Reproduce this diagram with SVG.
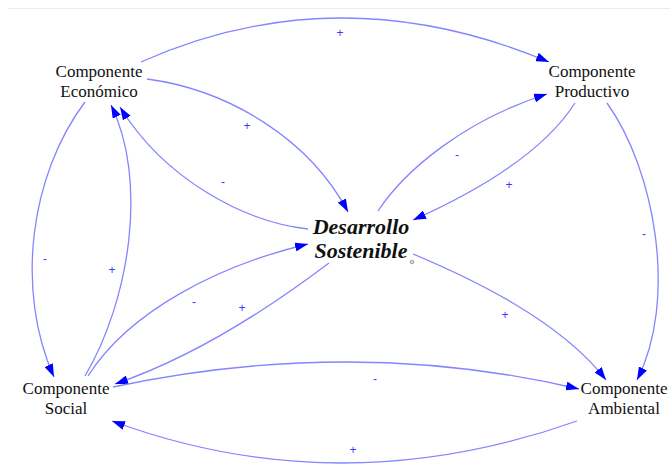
<svg xmlns="http://www.w3.org/2000/svg" width="670" height="466" viewBox="0 0 670 466">
<style>
.n{font-family:"Liberation Serif","Times New Roman",serif;font-size:17px;fill:#111;text-anchor:middle}
.c{font-family:"Liberation Serif","Times New Roman",serif;font-size:22px;font-weight:bold;font-style:italic;fill:#111;text-anchor:middle}
.e{fill:none;stroke:#8585ff;stroke-width:1.3;marker-end:url(#a)}
.s{font-family:"Liberation Sans",Arial,sans-serif;font-size:12px;fill:#3a3aff;text-anchor:middle}
</style>
<defs>
<marker id="a" viewBox="0 0 13 9" refX="13" refY="4.5" markerWidth="13" markerHeight="9" markerUnits="userSpaceOnUse" orient="auto">
<path d="M0,0 L13,4.5 L0,9 z" fill="#0000ff"/>
</marker>
</defs>
<rect width="670" height="466" fill="#fff"/>
<line x1="8" y1="8.5" x2="670" y2="8.5" stroke="#ececec" stroke-width="1"/>
<g id="connectors">
<path class="e" d="M141,62 Q339,-26 549,62"/>
<path class="e" d="M147,79 C230,90 310,140 348,212"/>
<path class="e" d="M308,229 C245,222 165,180 120,107"/>
<path class="e" d="M85,102 C30,175 15,290 54,377"/>
<path class="e" d="M85,376 C130,300 148,180 111,105"/>
<path class="e" d="M88,376 C130,310 220,265 308,244"/>
<path class="e" d="M329,263 C280,300 200,355 115,384"/>
<path class="e" d="M113,387 Q354,336 579,389"/>
<path class="e" d="M577,421 Q340,505 112,421"/>
<path class="e" d="M413,254 C470,278 560,320 606,380"/>
<path class="e" d="M607,103 C655,170 678,300 637,380"/>
<path class="e" d="M575,103 C545,150 480,190 413,220"/>
<path class="e" d="M378,211 C405,170 465,120 547,94"/>
</g>
<g id="polarities">
<text class="s" x="340" y="37">+</text>
<text class="s" x="247" y="130">+</text>
<text class="s" x="223" y="186">-</text>
<text class="s" x="45" y="263">-</text>
<text class="s" x="112" y="274">+</text>
<text class="s" x="194" y="306">-</text>
<text class="s" x="242" y="312">+</text>
<text class="s" x="375" y="383">-</text>
<text class="s" x="353" y="454">+</text>
<text class="s" x="505" y="319">+</text>
<text class="s" x="644" y="238">-</text>
<text class="s" x="509" y="189">+</text>
<text class="s" x="457" y="159">-</text>
</g>
<g id="economico">
<text class="n" x="99" y="77">Componente</text>
<text class="n" x="99" y="97">Económico</text>
</g>
<g id="productivo">
<text class="n" x="592" y="77">Componente</text>
<text class="n" x="592" y="97">Productivo</text>
</g>
<g id="social">
<text class="n" x="66" y="394">Componente</text>
<text class="n" x="66" y="414">Social</text>
</g>
<g id="ambiental">
<text class="n" x="624" y="394">Componente</text>
<text class="n" x="624" y="414">Ambiental</text>
</g>
<g id="desarrollo">
<text class="c" x="361" y="234">Desarrollo</text>
<text class="c" x="361" y="258">Sostenible</text>
<circle cx="412" cy="262" r="1.8" fill="#ddd" stroke="#888" stroke-width="0.8"/>
</g>
</svg>
